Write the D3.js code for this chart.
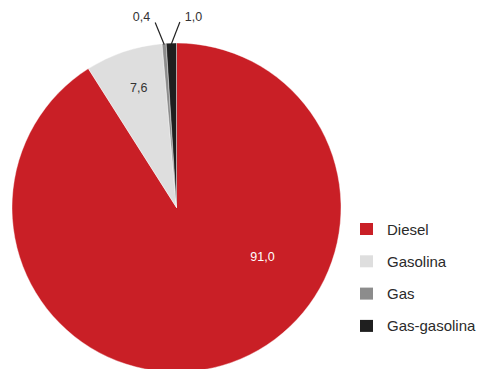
<!DOCTYPE html>
<html>
<head>
<meta charset="utf-8">
<script src="https://cdn.jsdelivr.net/npm/d3@7"></script>
<style>
  html, body { margin: 0; padding: 0; background: #fff; }
  svg { display: block; }
  text { font-family: "Liberation Sans", Arial, sans-serif; }
</style>
</head>
<body>
<svg id="chart" width="478" height="369"></svg>
<script>
// Fuel type shares (%)
const categories = ["Diesel", "Gasolina", "Gas", "Gas-gasolina"];
const values = [91.0, 7.6, 0.4, 1.0];
const valueLabels = ["91,0", "7,6", "0,4", "1,0"];
const colors = ["#c91f26", "#dedede", "#8c8c8c", "#1f1f1f"];

const W = 478, H = 369;
const cx = 176.5, cy = 207.5, R = 164.5;

const svg = d3.select("#chart");
const g = svg.append("g").attr("transform", `translate(${cx},${cy})`);

const data = categories.map((c, i) => ({ cat: c, value: values[i], label: valueLabels[i], color: colors[i] }));

// Diesel first, clockwise from 12 o'clock; the small slices end up just left of the top
const pie = d3.pie().sort(null).value(d => d.value);
const arcs = pie(data);
const arc = d3.arc().innerRadius(0).outerRadius(R);

g.selectAll("path.slice")
  .data(arcs)
  .join("path")
  .attr("class", "slice")
  .attr("d", arc)
  .attr("fill", d => d.data.color)
  .attr("stroke", "#ffffff")
  .attr("stroke-width", 0.4);

const polar = (ang, r) => [r * Math.sin(ang), -r * Math.cos(ang)];
const mid = d => (d.startAngle + d.endAngle) / 2;

// In-slice labels for the large slices
const inside = {
  "Diesel":   { ang: d => 2.09, r: 99, fill: "#ffffff" },
  "Gasolina": { ang: d => mid(d) + 0.02, r: 125, fill: "#333333" }
};
arcs.filter(d => inside[d.data.cat]).forEach(d => {
  const o = inside[d.data.cat];
  const [x, y] = polar(o.ang(d), o.r);
  g.append("text")
    .attr("x", x).attr("y", y)
    .attr("text-anchor", "middle")
    .attr("dominant-baseline", "central")
    .attr("font-size", 12.5)
    .attr("fill", o.fill)
    .text(d.data.label);
});

// Leader lines and labels for the thin slices at the top
const outside = {
  "Gas":          { dx: -9, anchor: "end" },
  "Gas-gasolina": { dx: 8.5, anchor: "start" }
};
arcs.filter(d => outside[d.data.cat]).forEach(d => {
  const o = outside[d.data.cat];
  const [x0, y0] = polar(mid(d), R - 1);
  const x1 = x0 + o.dx, y1 = y0 - 22;
  g.append("line")
    .attr("x1", x0).attr("y1", y0)
    .attr("x2", x1).attr("y2", y1)
    .attr("stroke", "#222").attr("stroke-width", 1.2);
  g.append("text")
    .attr("x", x1 + (o.anchor === "end" ? -5 : 5))
    .attr("y", y1 - 1)
    .attr("text-anchor", o.anchor)
    .attr("font-size", 12.5)
    .attr("fill", "#333")
    .text(d.data.label);
});

// Legend
const legend = svg.append("g").attr("transform", "translate(360,223)");
const row = legend.selectAll("g.item")
  .data(data)
  .join("g")
  .attr("class", "item")
  .attr("transform", (d, i) => `translate(0,${i * 32.3})`);
row.append("rect")
  .attr("width", 13).attr("height", 12)
  .attr("fill", d => d.color);
row.append("text")
  .attr("x", 27).attr("y", 6)
  .attr("dominant-baseline", "central")
  .attr("font-size", 15)
  .attr("fill", "#2a2a2a")
  .text(d => d.cat);
</script>
</body>
</html>
